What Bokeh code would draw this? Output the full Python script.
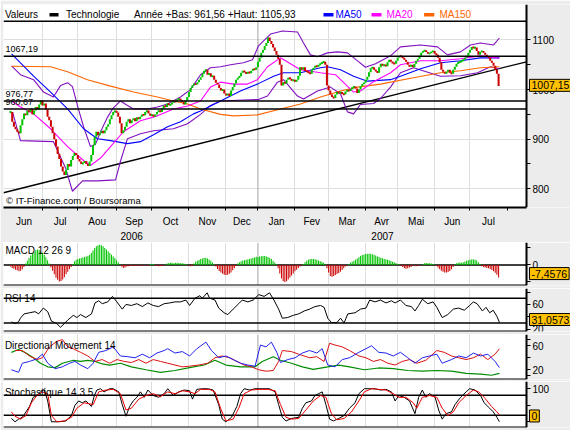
from bokeh.plotting import figure
from bokeh.layouts import column
from bokeh.models import Range1d, FixedTicker, Span, Label, BoxAnnotation, LinearAxis
from bokeh.embed import file_html
from bokeh.resources import INLINE

# ======================= DATA =======================
# x values are trading-day indices counted from 1 June 2006
month_starts = [0, 22, 43, 66, 87, 109, 131, 150, 172, 192, 214, 233, 255, 276, 298]
month_names = ["Jun", "Jul", "Aou", "Sep", "Oct", "Nov", "Dec",
               "Jan", "Fev", "Mar", "Avr", "Mai", "Jun", "Jul"]
year_names = ["2006", "2007"]
year_starts = [0, 150, 298]

first_day = 3
closes = [
    955, 935, 925, 920, 915, 912, 928, 940, 952, 948, 958, 955, 962, 950, 958, 965, 960, 970, 978, 968,
    972, 960, 945, 938, 925, 912, 900, 885, 870, 860, 845, 835, 828,
    838, 850, 845, 858, 866, 872, 868, 860, 855, 850, 852, 856, 850, 846, 855,
    868, 888, 905, 915, 908, 912, 917, 912, 918, 925, 930, 940, 948, 955, 957, 954, 945, 932, 912,
    918, 925, 935, 940, 932, 938, 942, 936, 944, 940, 945, 950, 948, 955, 958, 952, 947, 950, 945, 950,
    955, 958, 955, 962, 968, 965, 972, 969, 970, 974, 977, 975, 980, 982, 978, 975, 970, 978, 985, 995,
    1003, 1008, 1012, 1010, 1015,
    1020, 1025, 1032, 1038, 1040, 1030, 1033, 1026, 1028, 1020, 1014, 1010, 1003, 998, 1000, 992, 988, 992,
    987, 998, 1005, 1012, 1020, 1024, 1027, 1034, 1038, 1035, 1032, 1036, 1033, 1038, 1042, 1040, 1045,
    1056, 1064, 1074, 1080, 1088, 1094, 1105, 1098, 1092, 1085, 1078, 1070, 1062, 1050,
    1008, 1015, 1012, 1020, 1024, 1022, 1018, 1020, 1016, 1020, 1028, 1045, 1040, 1045, 1038, 1036, 1034,
    1032, 1040, 1044, 1048, 1046, 1050, 1052, 1055, 1056, 1050,
    1008, 998, 990, 985, 983, 990, 995, 993, 995, 991, 990, 996, 999, 997, 1001, 1004, 1006, 1002, 993,
    1000, 1007, 1011, 1014, 1020, 1026, 1035, 1043, 1045, 1040, 1037, 1034, 1045, 1052, 1048, 1050, 1047,
    1055, 1060, 1056, 1053, 1052, 1058, 1064, 1068, 1066, 1064, 1060, 1056, 1050, 1046, 1050, 1045, 1052,
    1058, 1062, 1068, 1074, 1078, 1079, 1076, 1072, 1074, 1076, 1078, 1072, 1070, 1064, 1055, 1040, 1036,
    1032, 1036, 1040, 1034, 1032, 1040, 1046, 1052, 1055, 1056, 1058, 1060, 1064, 1068, 1074, 1080, 1086,
    1084, 1085, 1078, 1070, 1076, 1078, 1074, 1070, 1066, 1064, 1058, 1054, 1048, 1040, 1032, 1007.15,
]

ma150_days = [3.6, 26.8, 36.9, 48.7, 62.4, 76.1, 90.3, 99.8, 108.2, 115.9, 127.8, 135.5, 149.7,
              163.4, 175.3, 187.2, 199.1, 209.2, 222.8, 242.4, 258.5, 270.4, 282.2, 293.5]
ma150_vals = [1047, 1046, 1036, 1020, 1007, 995, 985, 977, 971, 961, 950, 947, 949,
              961, 971, 985, 997, 1005, 1011, 1024, 1034, 1038, 1044, 1046]

ma50_days = [3.6, 8.9, 16.7, 26.8, 36.9, 46.4, 54.7, 62.4, 72.5, 80.2, 88.0, 96.3, 104.0, 111.7,
             115.9, 127.8, 139.6, 149.7, 159.3, 165.2, 175.3, 187.2, 191.3, 199.1, 206.8, 215.1,
             228.8, 234.7, 246.6, 258.5, 270.4, 282.2, 293.5]
ma50_vals = [1072, 1054, 1027, 995, 961, 921, 901, 897, 891, 895, 909, 925, 935, 951,
             957, 977, 997, 1011, 1027, 1034, 1034, 1044, 1046, 1040, 1027, 1017,
             1020, 1027, 1042, 1054, 1058, 1064, 1064]

ma20_days = [3.6, 8.9, 16.7, 26.8, 36.9, 46.4, 50.5, 56.5, 62.4, 70.1, 80.2, 90.3, 99.8, 108.2,
             115.9, 121.8, 127.8, 135.5, 143.8, 149.7, 155.7, 163.4, 175.3, 187.2, 196.1, 206.8,
             210.9, 218.7, 228.8, 234.7, 246.6, 258.5, 270.4, 282.2, 293.5]
ma20_vals = [977, 965, 951, 921, 885, 857, 847, 862, 885, 915, 937, 947, 961, 967,
             977, 1005, 1015, 1011, 1011, 1020, 1046, 1064, 1040, 1034, 1030, 995,
             997, 1016, 1034, 1050, 1058, 1058, 1062, 1068, 1063]

bb_up_days = [3.6, 8.9, 16.7, 22.6, 28.5, 32.7, 36.9, 39.8, 43.4, 46.4, 50.5, 53.5, 56.5, 60.6,
              63.6, 68.3, 72.5, 76.1, 84.4, 90.3, 96.3, 104.0, 109.9, 115.9, 121.8, 127.8, 133.7,
              141.4, 146.8, 150.3, 157.5, 164.6, 173.5, 177.1, 181.2, 185.4, 191.3, 197.3, 203.2,
              209.2, 213.9, 219.9, 228.8, 234.7, 246.6, 256.7, 262.6, 270.4, 276.3, 282.2, 290.0, 293.5]
bb_up_vals = [1048, 1030, 1020, 995, 985, 1008, 1014, 1006, 960, 925, 885, 890, 915, 944,
              961, 977, 968, 961, 961, 965, 971, 985, 1000, 1030, 1044, 1046, 1050,
              1054, 1060, 1088, 1112, 1118, 1116, 1094, 1070, 1066, 1074, 1076, 1074,
              1058, 1045, 1052, 1068, 1086, 1090, 1086, 1070, 1076, 1090, 1094, 1090, 1104]

bb_lo_days = [4.2, 8.9, 28.5, 35.7, 39.8, 45.8, 54.7, 65.4, 68.3, 72.5, 80.2, 88.0, 99.8, 108.2,
              115.9, 121.8, 127.8, 141.4, 150.3, 155.7, 161.6, 165.2, 173.5, 177.1, 185.4, 193.1,
              199.1, 203.2, 206.8, 210.9, 218.7, 222.8, 228.8, 234.7, 242.4, 258.5, 270.4, 280.5,
              288.2, 293.5]
bb_lo_vals = [955, 897, 895, 842, 795, 816, 816, 818, 855, 901, 911, 917, 921, 931,
              950, 968, 977, 979, 980, 987, 1015, 1020, 987, 981, 997, 1005,
              991, 955, 951, 970, 972, 982, 1005, 1034, 1044, 1027, 1028, 1034,
              1046, 1042]

trend_days = [-1.17, 309.58]
trend_vals = [792, 1056]

levels = [1067.19, 976.77, 960.67]
level_texts = ["1067,19", "976,77", "960,67"]

macd_hist = [
    -1.0, -1.8, -2.2, -2.8, -3.2, -3.8, -3.5, -2.6, -1.2, 0.8,
    2.5, 4.0, 5.5, 6.8, 7.8, 8.6, 9.0, 8.7, 8.0, 7.2,
    6.0, 4.5, 2.8, 0.8, -1.5, -3.5, -5.5, -7.5, -8.8, -9.8,
    -9.5, -8.6, -7.2, -5.5, -4.0, -2.5, -1.2, 0.5, 2.0, 3.0,
    3.5, 3.8, 4.0, 4.3, 4.6, 5.0, 5.4, 6.0, 7.0, 8.5,
    10.0, 11.0, 11.6, 11.8, 11.5, 11.0, 10.0, 9.0, 8.0, 7.0,
    6.0, 5.0, 4.0, 2.8, 1.5, 0.2, -1.0, -1.8, -1.5, -1.0,
    -0.8, -0.6, -0.5, -0.6, -0.7, -0.5, -0.4, -0.5, -0.6, -0.3,
    -0.2, -0.4, -0.3, 0.4, 0.7, 0.5, -0.3, -0.6, -0.8, -0.7,
    -0.6, -0.4, 0.3, 0.8, 1.1, 1.3, 1.2, 1.0, 1.2, 1.3,
    1.1, 0.9, 1.0, 0.8, 0.6, 0.3, -0.4, -0.8, -0.6, 0.8,
    1.8, 2.4, 2.9, 3.4, 3.8, 4.1, 4.2, 3.8, 3.2, 2.4,
    1.4, 0.4, -1.0, -2.4, -3.6, -4.5, -5.2, -5.8, -6.0, -5.8,
    -5.2, -4.4, -3.2, -2.0, -0.6, 0.8, 1.6, 2.2, 2.6, 2.8,
    3.0, 3.2, 3.4, 3.8, 4.0, 4.4, 4.8, 4.6, 4.9, 5.1,
    5.3, 5.2, 5.0, 4.6, 4.1, 3.4, 2.4, 1.4, 0.4, -2.0,
    -5.0, -8.0, -9.6, -10.0, -9.6, -8.6, -7.4, -6.2, -5.0, -3.8,
    -2.8, -1.8, -1.0, -0.4, 0.6, 1.6, 2.4, 3.0, 3.4, 3.5,
    3.4, 3.3, 3.0, 2.6, 2.2, 1.8, 1.2, 0.4, -2.0, -4.5,
    -6.5, -7.0, -6.6, -6.0, -5.4, -4.8, -4.0, -3.0, -2.0, -1.0,
    -0.3, 0.5, 1.2, 1.8, 2.4, 3.0, 3.8, 4.5, 5.2, 5.8,
    6.1, 6.4, 6.5, 6.6, 6.5, 6.3, 6.0, 5.6, 5.0, 4.6,
    4.2, 3.9, 3.6, 3.3, 3.0, 2.7, 2.3, 1.9, 1.5, 1.1,
    0.6, 0.2, -0.6, -1.2, -1.8, -2.3, -2.0, -1.6, -1.2, -0.6,
    -0.4, -0.8, -0.5, -0.3, -0.1, 0.6, 1.0, 1.1, 0.9, 1.0,
    0.8, 0.6, 0.3, -0.4, -1.5, -2.6, -3.4, -4.0, -4.4, -4.5,
    -4.2, -3.6, -2.6, -1.2, 0.4, 1.0, 1.2, 1.4, 1.3, 1.6,
    2.0, 2.4, 2.8, 3.0, 3.2, 3.3, 3.1, 2.6, 1.6, 0.5,
    -0.8, -1.2, -1.5, -1.8, -2.0, -2.4, -3.0, -3.8, -4.6, -5.8, -7.4576,
]

rsi_days = [3.5, 5.7, 7.8, 8.9, 11.1, 14.3, 17.6, 19.7, 22.5, 25.1,
            27.3, 30.5, 32.7, 34.9, 37.0, 40.3, 42.4, 44.6, 47.8, 51.1,
            53.2, 55.4, 57.5, 60.8, 63.6, 66.2, 69.4, 71.6, 74.8, 78.1,
            81.3, 84.6, 87.8, 91.0, 94.3, 97.5, 100.7, 104.0, 107.2, 109.4,
            112.6, 115.5, 117.0, 119.8, 121.3, 124.5, 126.7, 129.9, 132.1, 135.3,
            138.6, 140.7, 144.0, 147.2, 150.5, 153.7, 156.9, 159.5, 162.3, 164.5,
            167.7, 171.0, 174.2, 177.5, 180.7, 183.9, 187.2, 189.3, 191.5, 193.7,
            196.9, 199.1, 201.2, 203.4, 207.7, 211.0, 214.2, 216.4, 219.6, 222.8,
            226.1, 229.3, 231.5, 234.7, 237.9, 241.2, 243.3, 245.5, 247.7, 250.9,
            254.1, 256.3, 259.5, 262.8, 266.1, 269.3, 272.6, 275.8, 278.0, 280.2,
            283.4, 285.5, 287.7, 289.8, 292.0, 293.5]
rsi_vals = [31.8, 29.0, 32.0, 37.7, 44.7, 46.5, 48.3, 44.7, 54.1, 48.3,
            33.0, 28.9, 23.0, 28.9, 34.7, 42.4, 38.8, 43.6, 38.8, 44.7,
            62.4, 65.9, 61.2, 64.1, 73.0, 64.1, 52.4, 60.0, 58.3, 61.2,
            56.5, 62.4, 58.3, 56.5, 61.2, 62.4, 64.1, 64.1, 67.1, 58.3,
            70.0, 74.1, 70.0, 78.8, 70.0, 67.1, 54.1, 46.5, 43.6, 52.4,
            61.2, 67.1, 64.1, 67.1, 75.9, 73.0, 78.8, 67.1, 52.4, 37.7,
            38.8, 42.4, 44.7, 49.4, 52.4, 56.5, 58.3, 55.3, 37.7, 30.6,
            30.6, 37.7, 30.0, 44.7, 46.5, 52.4, 54.1, 67.1, 64.1, 67.1,
            62.4, 65.9, 62.4, 67.1, 58.3, 56.5, 49.4, 58.3, 68.3, 61.2,
            64.1, 55.3, 38.8, 43.6, 52.4, 54.1, 50.6, 58.3, 64.1, 61.2,
            49.4, 55.3, 46.5, 50.6, 40.6, 31.0573]
rsi_levels = [70, 30]

adx_days = [3.5, 7.8, 12.2, 16.5, 20.8, 25.1, 29.5, 33.8, 40.3, 44.6,
            48.9, 53.2, 57.5, 61.9, 68.3, 74.8, 83.5, 92.1, 100.7, 109.4,
            118.1, 124.5, 131.0, 139.7, 148.3, 152.6, 159.1, 163.4, 169.9, 176.4,
            182.9, 191.5, 198.0, 204.4, 213.2, 221.8, 230.4, 239.0, 247.7, 256.3,
            265.0, 273.7, 282.3, 288.8, 293.5]
adx_vals = [49.0, 53.9, 47.9, 40.0, 30.9, 24.9, 23.6, 30.9, 35.8, 33.9,
            35.8, 33.9, 29.7, 27.9, 30.9, 24.9, 20.0, 15.8, 18.8, 23.6,
            27.9, 35.8, 27.9, 24.9, 24.9, 33.9, 41.8, 35.8, 30.9, 24.9,
            20.6, 24.9, 27.9, 24.9, 20.0, 23.0, 21.8, 18.8, 17.6, 18.8,
            17.6, 13.9, 12.7, 10.9, 13.9]

pdi_days = [3.5, 7.8, 10.0, 14.3, 18.7, 21.9, 25.1, 29.5, 33.8, 38.1,
            41.3, 44.6, 48.9, 52.1, 55.4, 59.7, 64.0, 68.3, 72.7, 77.0,
            81.3, 85.6, 90.0, 94.3, 96.4, 100.7, 105.1, 109.4, 113.7, 119.1,
            122.4, 126.7, 131.0, 135.3, 139.7, 144.0, 148.3, 151.5, 154.8, 158.0,
            161.2, 163.4, 167.7, 172.1, 176.4, 180.7, 185.0, 188.2, 191.5, 195.8,
            200.1, 204.4, 210.0, 214.2, 217.5, 221.8, 226.1, 230.4, 234.7, 239.0,
            243.3, 247.7, 252.0, 256.3, 259.5, 265.0, 269.3, 273.7, 278.0, 282.3,
            286.6, 290.9, 293.5]
pdi_vals = [20.0, 15.8, 30.9, 33.9, 38.2, 46.0, 30.9, 21.8, 24.9, 30.9,
            33.9, 27.9, 21.8, 30.9, 49.1, 52.1, 58.2, 43.0, 41.8, 40.0,
            46.0, 40.0, 47.9, 52.1, 55.1, 47.9, 50.3, 43.0, 55.1, 66.1,
            52.1, 40.0, 43.0, 37.0, 30.9, 27.9, 26.0, 61.2, 58.2, 66.1,
            49.1, 32.1, 37.0, 40.0, 47.9, 52.1, 47.9, 55.1, 27.9, 24.9,
            37.0, 40.0, 49.1, 55.1, 60.0, 49.1, 47.9, 43.0, 49.1, 40.0,
            30.9, 40.0, 43.0, 46.0, 30.9, 37.0, 43.0, 40.0, 47.9, 43.0,
            46.0, 33.9, 23.6]

mdi_days = [5.7, 10.0, 14.3, 18.7, 21.9, 26.2, 30.5, 33.8, 37.0, 40.3,
            44.6, 48.9, 53.2, 57.5, 61.9, 66.2, 70.5, 74.8, 79.2, 83.5,
            87.8, 92.1, 96.4, 100.7, 105.1, 109.4, 114.8, 120.2, 124.5, 128.8,
            133.2, 137.5, 141.8, 146.1, 150.5, 154.8, 159.1, 162.3, 164.5, 169.9,
            174.2, 180.7, 185.0, 189.3, 192.6, 195.8, 200.1, 204.4, 210.0, 214.2,
            218.6, 222.8, 227.2, 231.5, 235.8, 240.1, 244.4, 249.8, 256.3, 260.7,
            265.0, 269.3, 273.7, 278.0, 282.3, 286.6, 290.9, 293.5]
mdi_vals = [52.1, 52.1, 43.0, 37.0, 40.0, 58.2, 67.3, 70.3, 58.2, 55.1,
            49.1, 43.0, 33.9, 37.0, 30.9, 37.0, 33.9, 32.1, 37.0, 30.9,
            37.0, 33.9, 30.9, 27.9, 24.9, 26.0, 27.9, 30.9, 40.0, 43.0,
            40.0, 33.9, 27.9, 24.9, 20.0, 17.6, 18.8, 33.9, 52.1, 50.3,
            46.0, 40.0, 41.8, 33.9, 64.2, 61.2, 58.2, 52.1, 43.0, 40.0,
            33.9, 37.0, 30.9, 27.9, 33.9, 37.0, 30.9, 35.8, 52.1, 49.1,
            43.0, 40.0, 37.0, 40.0, 46.0, 37.0, 46.0, 55.1]

stk_days = [3.5, 5.7, 7.8, 10.0, 12.2, 14.3, 16.5, 18.7, 20.8, 23.0,
            25.1, 27.3, 31.6, 35.9, 39.2, 41.3, 43.5, 45.7, 47.8, 51.1,
            52.8, 54.3, 56.5, 58.6, 61.9, 64.0, 67.3, 69.4, 71.6, 73.8,
            75.9, 78.1, 80.2, 82.4, 84.6, 87.8, 91.0, 94.3, 96.4, 99.7,
            102.9, 106.2, 109.4, 111.1, 113.7, 117.0, 120.2, 123.4, 126.7, 128.8,
            131.0, 134.3, 137.5, 139.7, 141.8, 145.1, 148.3, 152.6, 156.9, 160.2,
            162.3, 164.5, 166.7, 169.9, 174.2, 176.4, 178.5, 181.8, 183.9, 186.1,
            188.2, 190.4, 192.6, 194.8, 198.0, 201.2, 204.4, 207.7, 210.0, 213.2,
            216.4, 219.6, 222.8, 226.1, 229.3, 231.5, 233.7, 236.9, 240.1, 243.3,
            245.5, 247.7, 249.8, 252.0, 255.3, 257.4, 259.5, 261.7, 265.0, 267.1,
            270.4, 273.7, 275.8, 279.0, 282.3, 284.4, 287.7, 289.8, 292.0, 293.5]
stk_vals = [10, 0, 8, 13.5, 30, 46.5, 74, 79.5, 90.5, 98,
            63, 0, 0, 2.5, 19, 50, 63, 57.5, 63, 46.5,
            79.5, 96, 100, 90.5, 100, 100, 90.5, 52, 16.8, 46.5,
            63, 74, 90.5, 74, 96, 79.5, 74, 85, 100, 79.5,
            90.5, 96, 93.8, 68.5, 98, 100, 100, 96, 52, 8,
            0, 13.5, 46.5, 85, 100, 96, 100, 100, 100, 90.5,
            52, 13.5, 2.5, 10, 13.5, 41, 57.5, 63, 79.5, 85,
            90.5, 52, 8, 2.5, 10, 19, 41, 57.5, 85, 100,
            100, 100, 96, 98, 90.5, 63, 79.5, 74, 63, 24.5,
            74, 96, 74, 85, 74, 35.5, 8, 24.5, 30, 52,
            74, 90.5, 100, 96, 79.5, 57.5, 41, 30, 13.5, 0]

std_days = [3.5, 5.7, 8.9, 12.2, 15.4, 18.7, 21.9, 25.1, 27.3, 30.5,
            34.9, 39.2, 42.4, 46.7, 52.1, 55.4, 59.7, 64.0, 68.3, 71.6,
            74.8, 79.2, 83.5, 87.8, 92.1, 96.4, 100.7, 105.1, 109.4, 112.6,
            115.9, 121.3, 124.5, 127.8, 131.0, 135.3, 138.6, 141.8, 146.1, 150.5,
            155.9, 160.2, 163.4, 166.7, 169.9, 174.2, 178.5, 182.9, 187.2, 190.4,
            193.7, 196.9, 201.2, 205.6, 210.0, 213.2, 217.5, 221.8, 226.1, 230.4,
            233.7, 238.0, 242.3, 244.4, 247.7, 252.0, 256.3, 259.5, 262.8, 266.1,
            269.3, 273.7, 278.0, 281.2, 284.4, 288.8, 292.0, 293.5]
std_vals = [30, 16.8, 8, 19, 57.5, 79.5, 90.5, 85, 19, 0,
            2.5, 13.5, 41, 57.5, 52, 90.5, 96, 98, 85, 35.5,
            41, 68.5, 79.5, 85, 76, 90.5, 85, 93.8, 90.5, 85,
            98, 98, 90.5, 41, 2.5, 8, 41, 85, 96, 98,
            98, 93.8, 52, 13.5, 8, 10, 35.5, 63, 79.5, 74,
            24.5, 5.8, 10, 30, 63, 90.5, 100, 98, 96, 85,
            74, 74, 57.5, 41, 74, 79.5, 74, 41, 19, 30,
            57.5, 79.5, 96, 90.5, 74, 46.5, 30, 21]
stoch_levels = [80, 20]

header_title = "Valeurs"
series_name = "Technologie"
year_range_text = "Année +Bas: 961,56 +Haut: 1105,93"
ma_names = ["MA50", "MA20", "MA150"]
copyright_text = "\u00a9 IT-Finance.com / Boursorama"
last_close_text = "1007,15"
macd_last_text = "-7,4576"
rsi_last_text = "31,0573"
stoch_last_text = "0"

# ======================= STYLE / LAYOUT =======================
FONT = "Liberation Sans"
GRAY = "#ECECEC"
GRID = "#DEDEDE"
YEAR_LINE = "#A4A4A4"
UP = "#00C400"
DOWN = "#CC0000"
BOXC = "#FFC000"
C_MA50 = "#0000FF"
C_MA20 = "#FF00FF"
C_MA150 = "#FF6600"
C_BB = "#8010C0"

W = 570
LB = 3                      # grey strip left of the frame
PXD = 1.683                 # pixels per trading day
X0 = 22 - (42 - LB) / PXD   # left edge of the frame
X1 = 22 + (526 - 42) / PXD  # where the value axis stands
XE = 22 + (W - 42) / PXD    # right edge of the frame (grey zone beyond X1)
xr = Range1d(X0, XE)


def rx(px):
    """day coordinate for a horizontal pixel position"""
    return 22 + (px - 42) / PXD


def style_yaxis(ya, ticks, minor):
    ya.fixed_location = X1
    ya.ticker = FixedTicker(ticks=ticks, minor_ticks=minor)
    ya.axis_line_color = "black"
    ya.axis_line_width = 2
    ya.major_tick_line_color = "black"
    ya.major_tick_in = 0
    ya.major_tick_out = 4
    ya.minor_tick_line_color = "black"
    ya.minor_tick_in = 0
    ya.minor_tick_out = 4
    ya.major_label_text_font = FONT
    ya.major_label_text_font_size = "10px"
    ya.major_label_text_color = "black"
    ya.major_label_standoff = 2


def make_fig(top, frame_h, bottom, y0, y1, yticks, yminor):
    p = figure(width=W, height=top + frame_h + bottom, x_range=xr, y_range=Range1d(y0, y1),
               title=None, tools="", toolbar_location=None, output_backend="svg",
               y_axis_location="right", min_border_left=LB, min_border_right=0,
               min_border_top=top, min_border_bottom=bottom,
               background_fill_color="white", border_fill_color=GRAY,
               outline_line_color=None)
    style_yaxis(p.yaxis[0], yticks, yminor)
    p.xgrid.ticker = FixedTicker(ticks=[m for m in month_starts[1:] if m not in year_starts])
    p.xgrid.grid_line_color = GRID
    p.ygrid.grid_line_color = None
    p.add_layout(Span(location=year_starts[1], dimension="height", line_color=YEAR_LINE,
                      line_width=1, level="underlay"))
    return p


def sub_xaxis(p, y0):
    xa = p.xaxis[0]
    xa.fixed_location = y0
    xa.bounds = (X0, X1)
    xa.ticker = FixedTicker(ticks=[], minor_ticks=month_starts[1:])
    xa.axis_line_color = "black"
    xa.axis_line_width = 2
    xa.minor_tick_line_color = "#BDBDBD"
    xa.minor_tick_in = 0
    xa.minor_tick_out = 3


def grey_zone(p):
    p.add_layout(BoxAnnotation(left=X1, fill_color=GRAY, fill_alpha=1.0, line_color=None,
                               level="underlay"))


def add_label(p, x, y, text, size="10px", color="black", align="left", baseline="middle", **kw):
    p.add_layout(Label(x=x, y=y, text=text, text_font=FONT, text_font_size=size,
                       text_color=color, text_align=align, text_baseline=baseline, **kw))


def add_value_box(p, y, text, yoff=0.0):
    add_label(p, X1, y, text, size="10.5px", x_offset=3, y_offset=yoff,
              background_fill_color=BOXC, background_fill_alpha=1.0,
              border_line_color="black", border_line_width=1, padding=2)


def hlines(p, ys, width=1.5):
    p.segment(x0=[X0] * len(ys), x1=[X1] * len(ys), y0=ys, y1=ys,
              line_color="black", line_width=width)


# ----------------------- main price panel -----------------------
PSC = 151.0 / 300.0                   # pixels per index point


def ry(py):
    """price value for a vertical pixel position of the price panel"""
    return 1100 - (py - 40) / PSC


P_LO = ry(210)
P_TOP = ry(4)
HDR = ry(21)

pm = make_fig(4, 206, 32, P_LO, P_TOP, [800, 900, 1000, 1100], [850, 950, 1050])
pm.ygrid.ticker = FixedTicker(ticks=[800, 900, 1000, 1100])
pm.ygrid.grid_line_color = GRID

# month axis (labels centred in the months, tick marks on month boundaries)
mids = [(month_starts[i] + month_starts[i + 1]) / 2 for i in range(len(month_names))]
xa = pm.xaxis[0]
xa.bounds = (X0, X1)
xa.ticker = FixedTicker(ticks=mids, minor_ticks=month_starts[1:])
xa.major_label_overrides = {m: n for m, n in zip(mids, month_names)}
xa.axis_line_color = "black"
xa.axis_line_width = 2
xa.major_tick_line_color = None
xa.major_tick_in = 0
xa.major_tick_out = 0
xa.minor_tick_line_color = "black"
xa.minor_tick_in = 0
xa.minor_tick_out = 3
xa.major_label_standoff = 5
xa.major_label_text_font = FONT
xa.major_label_text_font_size = "10px"
xa.major_label_text_color = "black"

ymids = [(year_starts[i] + year_starts[i + 1]) / 2 for i in range(len(year_names))]
year_axis = LinearAxis(ticker=FixedTicker(ticks=ymids, minor_ticks=[]),
                       major_label_overrides={m: n for m, n in zip(ymids, year_names)},
                       axis_line_color=None, major_tick_line_color=None,
                       minor_tick_line_color=None, major_tick_in=0, major_tick_out=0,
                       major_label_standoff=2, major_label_text_font=FONT,
                       major_label_text_font_size="10px", major_label_text_color="black")
pm.add_layout(year_axis, "below")

# header zone (white, no grid)
pm.add_layout(BoxAnnotation(bottom=HDR, right=X1, fill_color="white", fill_alpha=1.0,
                            line_color=None, level="underlay"))
grey_zone(pm)

pm.line(trend_days, trend_vals, line_color="black", line_width=1.3)
pm.line(bb_up_days, bb_up_vals, line_color=C_BB, line_width=1.1)
pm.line(bb_lo_days, bb_lo_vals, line_color=C_BB, line_width=1.1)
pm.line(ma150_days, ma150_vals, line_color=C_MA150, line_width=1.1)
pm.line(ma50_days, ma50_vals, line_color=C_MA50, line_width=1.1)
pm.line(ma20_days, ma20_vals, line_color=C_MA20, line_width=1.1)

days = list(range(first_day, first_day + len(closes)))
opens = [closes[0]] + closes[:-1]
min_body = 2.0 / PSC
c_top, c_bot, c_col = [], [], []
for o, c in zip(opens, closes):
    lo, hi = min(o, c), max(o, c)
    if hi - lo < min_body:
        mid = (hi + lo) / 2
        lo, hi = mid - min_body / 2, mid + min_body / 2
    c_top.append(hi)
    c_bot.append(lo)
    c_col.append(UP if c >= o else DOWN)
pm.vbar(x=days, width=1.2, top=c_top, bottom=c_bot, fill_color=c_col, line_color=None)

hlines(pm, levels)
hlines(pm, [HDR])
for lv, txt in zip(levels, level_texts):
    add_label(pm, rx(5), lv, txt, size="9px", y_offset=7.5)

add_label(pm, rx(5.5), ry(202.5), copyright_text, size="9.5px")

HY = ry(14)
add_label(pm, rx(4.4), HY, header_title)
pm.add_layout(BoxAnnotation(left=rx(49), right=rx(58), bottom=ry(16.3), top=ry(12.7),
                            fill_color="black", fill_alpha=1.0, line_color=None))
add_label(pm, rx(65.5), HY, series_name)
add_label(pm, rx(133.5), HY, year_range_text)
for (l, r, tx), name, col in zip([(323, 333, 335), (371, 381, 386), (423.6, 433.8, 439)],
                                 ma_names, [C_MA50, C_MA20, C_MA150]):
    pm.add_layout(BoxAnnotation(left=rx(l), right=rx(r), bottom=ry(16.3), top=ry(12.7),
                                fill_color=col, fill_alpha=1.0, line_color=None))
    add_label(pm, rx(tx), HY, name, color=col)

add_value_box(pm, closes[-1], last_close_text, yoff=0.7)

# ----------------------- MACD -----------------------
M_SC = 1.7
M1 = (264.4 - 242) / M_SC
M0 = -(285 - 264.4) / M_SC
pmacd = make_fig(0, 43, 3, M0, M1, [0], [-10, 10])
sub_xaxis(pmacd, M0)
grey_zone(pmacd)
hlines(pmacd, [0])
mdays = list(range(first_day, first_day + len(macd_hist)))
pmacd.vbar(x=mdays, width=0.62, top=macd_hist, bottom=0,
           fill_color=[UP if v >= 0 else DOWN for v in macd_hist], line_color=None)
add_label(pmacd, rx(5), M1 - (250 - 242) / M_SC, "MACD 12 26 9")
add_value_box(pmacd, macd_hist[-1], macd_last_text, yoff=4)


# ----------------------- RSI -----------------------
def rsi_v(py):
    return 90.6 - 1.617 * (py - 285)


R0, R1 = rsi_v(331), rsi_v(288)
prsi = make_fig(0, 43, 3, R0, R1, [20, 60], [40, 80])
sub_xaxis(prsi, R0)
grey_zone(prsi)
hlines(prsi, rsi_levels)
prsi.line(rsi_days, rsi_vals, line_color="black", line_width=1)
add_label(prsi, rx(4.4), rsi_v(297.7), "RSI 14")
add_value_box(prsi, rsi_vals[-1], rsi_last_text, yoff=2.8)


# ----------------------- DMI -----------------------
def dmi_v(py):
    return 85.45 - 1.6665 * (py - 330)


D0, D1 = dmi_v(379), dmi_v(334)
pdmi = make_fig(0, 45, 2, D0, D1, [20, 60], [10, 40, 70])
sub_xaxis(pdmi, D0)
grey_zone(pdmi)
pdmi.line(adx_days, adx_vals, line_color="#008C00", line_width=1.2)
pdmi.line(mdi_days, mdi_vals, line_color="#DD1111", line_width=1)
pdmi.line(pdi_days, pdi_vals, line_color="#2222EE", line_width=1)
add_label(pdmi, rx(4.4), dmi_v(345), "Directional Movement 14")


# ----------------------- Stochastic -----------------------
def sto_v(py):
    return 140 - 3.025 * (py - 375)


S0, S1 = sto_v(427), sto_v(381)
psto = make_fig(0, 46, 3, S0, S1, [100], [0, 50])
sub_xaxis(psto, S0)
grey_zone(psto)
hlines(psto, stoch_levels)
psto.line(stk_days, stk_vals, line_color="black", line_width=1)
psto.line(std_days, std_vals, line_color="#EE0000", line_width=1)
add_label(psto, rx(4.4), sto_v(392), "Stochastique 14 3 5")
add_value_box(psto, stk_vals[-1], stoch_last_text, yoff=5.8)

layout = column(pm, pmacd, prsi, pdmi, psto)
open("out.html", "w").write(file_html(layout, INLINE))
